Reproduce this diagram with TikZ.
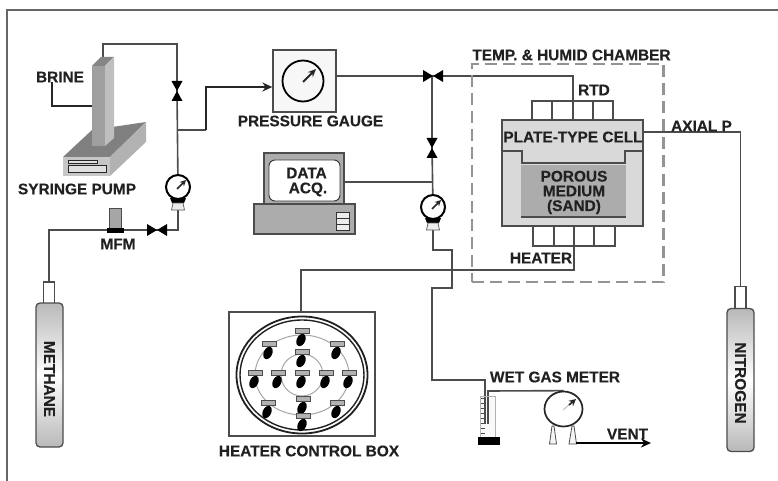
\documentclass[tikz,border=0pt]{standalone}
\usepackage{fontspec}
\setmainfont{Liberation Sans}[BoldFeatures={FakeBold=0.35}]
\usetikzlibrary{arrows.meta,shapes.geometric,calc}
\pgfdeclarelayer{bg}
\pgfsetlayers{bg,main}
\definecolor{pipe}{gray}{0.3}
\definecolor{ink}{gray}{0.13}
\tikzset{
 lab/.style={font=\fontsize{15.4}{16}\selectfont\bfseries,text=ink,inner sep=0pt,align=center},
 pipeline/.style={draw=pipe,line width=1.6pt,line join=miter},
 darkpipe/.style={draw=black!85,line width=1.7pt},
 arrowpipe/.style={darkpipe,-{Stealth[length=10pt,width=9pt]}},
 part/.style={draw=pipe,line width=1.3pt,inner sep=0pt},
 gaugedial/.style={circle,draw=black,fill=white,line width=2pt,minimum size=24pt,inner sep=0pt},
 needle/.style={draw=black!85,line width=1.6pt,-{Stealth[length=6pt,width=6pt]}},
 cylbody/.style={rotate=-90,draw=pipe,line width=1.3pt,rounded corners=4pt,minimum height=27pt,top color=gray!55,bottom color=gray!55,middle color=white,font=\fontsize{15.4}{16}\selectfont\bfseries,text=ink,inner sep=0pt},
 cylneck/.style={draw=pipe,line width=1.3pt,fill=white,minimum width=11pt,minimum height=22pt,inner sep=0pt},
 gridline/.style={draw=pipe,line width=1.5pt},
 tag/.style={draw=gray!60!black,fill=gray!60,line width=.6pt,minimum width=14pt,minimum height=5.5pt,inner sep=0pt},
 blob/.style={ellipse,fill=black,minimum width=8.5pt,minimum height=13pt,inner sep=0pt,rotate=-25},
 ring/.style={draw=gray!70,line width=1pt},
}
\newcommand{\valveH}[3]{%
 \coordinate (#1) at (#2,#3);
 \fill[black] (#2,#3) -- ++(-10,-6) -- ++(0,12) -- cycle;
 \fill[black] (#2,#3) -- ++(10,-6) -- ++(0,12) -- cycle;}
\newcommand{\valveV}[3]{%
 \coordinate (#1) at (#2,#3);
 \fill[black] (#2,#3) -- ++(-5.5,-10) -- ++(11,0) -- cycle;
 \fill[black] (#2,#3) -- ++(-5.5,10) -- ++(11,0) -- cycle;}
\newcommand{\gaugeat}[3]{%
 \node[gaugedial] (#1) at (#2,#3) {};
 \draw[needle] ($(#1)+(-1,2)$) -- ($(#1)+(8,-7)$);
 \fill[black] (#2-8,#3+11) -- (#2+8,#3+11) -- (#2+6,#3+16) -- (#2-6,#3+16) -- cycle;
 \node[coordinate] (#1foot) at (#2,#3+23) {};
 \filldraw[fill=gray!15,draw=gray!70!black,line width=.7pt] (#2-5,#3+16) -- (#2+5,#3+16) -- (#2+6.5,#3+23) -- (#2-6.5,#3+23) -- cycle;}
\newcommand{\heatertag}[3]{%
 \node[blob] at (#2-1,#3+9) {};
 \node[tag] (#1) at (#2,#3) {};}
\begin{document}
\begin{tikzpicture}[x=1pt,y=-1pt]
\useasboundingbox (0,0) rectangle (778,481);
% frame
\coordinate (frameTR) at (778,10);
\coordinate (frameTL) at (7,10);
\coordinate (frameBL) at (7,481);
\draw[gray!80!black,line width=2.6pt] (frameTR) -- (frameTL) -- (frameBL);

% syringe pump
\fill[gray] (63,157) -- (92,130) -- (146,122) -- (110,157) -- cycle;
\fill[gray!45] (63,157) rectangle (110,176);
\fill[gray!60] (110,157) -- (146,122) -- (146,142) -- (110,176) -- cycle;
\draw[gray!30!black,line width=.9pt,fill=gray!25] (68,160) rectangle (97,163);
\draw[gray!30!black,line width=.9pt,fill=gray!25] (68,165) rectangle (106,172);
\fill[gray!95] (92,66) -- (101,57) -- (114,57) -- (105,66) -- cycle;
\fill[gray!75] (92,66) rectangle (105,146);
\fill[gray!50] (105,66) -- (114,57) -- (114,138) -- (105,146) -- cycle;
\coordinate (pumpTop) at (103,63);
\coordinate (pumpSide) at (92,106);
\node[lab] (brine) at (60,77) {BRINE};
\coordinate (brineFoot) at (52,82);
\node[lab] (syringe) at (77,189) {SYRINGE PUMP};

% valves
\valveV{v1}{177}{91}
\valveH{v2}{157}{230}
\valveH{v3}{433}{76}
\valveV{v4}{432}{148}

% gauges
\gaugeat{g1}{178}{187}
\gaugeat{g2}{433}{207}

% MFM
\node[draw=gray!60!black,fill=gray!70,line width=.8pt,minimum width=12pt,minimum height=21pt,inner sep=0pt] (mfmtop) at (115,218.5) {};
\node[fill=black,minimum width=17pt,minimum height=5pt,inner sep=0pt] (mfm) at (115,230.5) {};
\node[lab] (mfml) at (118,244) {MFM};

% methane cylinder
\node[cylneck] (mneck) at (49,293) {};
\node[cylbody,minimum width=144pt] (methane) at (49.5,375) {\hspace*{8pt}METHANE};

% nitrogen cylinder
\node[cylneck] (nneck) at (740.5,297.5) {};
\node[cylbody,minimum width=143pt] (nitrogen) at (740.5,380) {\hspace*{6pt}NITROGEN};

% pressure gauge
\node[draw=pipe,fill=gray!6,line width=1.3pt,minimum width=63pt,minimum height=62pt,inner sep=0pt] (pg) at (304.5,81) {};
\node[circle,draw=black,line width=1.8pt,minimum size=41pt,inner sep=0pt] (pgd) at (303,81) {};
\draw[needle,line width=1.8pt,-{Stealth[length=8pt,width=7pt]}] (303,82) -- (316,69);
\node[lab] (pgl) at (310.5,121) {PRESSURE GAUGE};

% data acquisition
\node[part,fill=gray!65,minimum width=80pt,minimum height=51pt] (mon) at (304,178.5) {};
\node[draw=gray!40!black,line width=.9pt,fill=white,rounded corners=6pt,minimum width=71pt,minimum height=41pt,inner sep=0pt] (acq) at (304.5,180.5) {};
\node[lab] (acql) at (306.5,182) {DATA\\[-1pt]\hspace*{3pt}ACQ.};
\node[part,fill=gray!65,minimum width=101pt,minimum height=30pt] (base) at (304.5,219) {};
\foreach \yy in {215.5,221.5,227.5}
  \node[draw=gray!40!black,line width=.7pt,fill=gray!15,minimum width=13pt,minimum height=6pt,inner sep=0pt] at (342.5,\yy) {};

% chamber
\node[draw=gray!85,line width=2.2pt,dash pattern=on 12pt off 6pt,minimum width=191.5pt,minimum height=218pt,inner sep=0pt] (chamber) at (567.75,173) {};
\node[lab] (chl) at (571.5,55) {TEMP. \& HUMID CHAMBER};
\node[lab] (rtd) at (594,90) {RTD};

% cell
\node[part,fill=gray!30,minimum width=141pt,minimum height=106pt] (cell) at (572.5,173) {};
\fill[gray!65] (521,165) rectangle (626,217);
\draw[gridline] (521,217) -- (626,217);
\draw[gridline] (502,151) -- (522,151) -- (522,163) -- (625,163) -- (625,151) -- (643,151);
\node[lab] (celll) at (573,137) {PLATE-TYPE CELL};
\node[lab,font=\fontsize{15.4}{14.7}\selectfont\bfseries] (sand) at (574,192.5) {POROUS\\MEDIUM\\(SAND)};
\draw[gridline] (532,120) |- (613,101) -- (613,120);
\foreach \xx in {552,593} \draw[gridline] (\xx,101) -- (\xx,120);
\coordinate (rtdTop) at (573,101);
\coordinate (cellTopMid) at (573,120);
\draw[gridline] (533,226) |- (615,246) -- (615,226);
\foreach \xx in {554,594} \draw[gridline] (\xx,226) -- (\xx,246);
\coordinate (heatTop) at (574,226);
\node[lab] (heaterl) at (541,258) {HEATER};
\node[lab] (axial) at (701.5,126) {AXIAL P};

% heater control box
\node[part,minimum width=146pt,minimum height=124pt,fill=white] (box) at (302,374) {};
\draw[gray!25!black,line width=1.8pt] (302,375) ellipse [x radius=65.5,y radius=58.5];
\draw[gray!25!black,line width=1.4pt] (302,375) ellipse [x radius=62,y radius=55];
\draw[ring] (302,375) ellipse [x radius=47,y radius=40];
\draw[ring] (302,375) circle [radius=21];
\heatertag{h1}{302}{331}
\heatertag{h2}{269}{344}
\heatertag{h3}{337}{344}
\heatertag{h4}{302}{352}
\heatertag{h5}{255}{373}
\heatertag{h6}{278}{373}
\heatertag{h7}{302}{373}
\heatertag{h8}{326}{373}
\heatertag{h9}{349}{373}
\heatertag{h10}{268}{403}
\heatertag{h11}{303}{399}
\heatertag{h12}{337}{403}
\heatertag{h13}{303}{416}
\node[lab] (boxl) at (309,451) {HEATER CONTROL BOX};

% wet gas meter
\node[lab] (wgl) at (555,377) {WET GAS METER};
\node[draw=gray!60,line width=.9pt,fill=gray!5,minimum width=15pt,minimum height=41pt,inner sep=0pt] (tube) at (488,417) {};
\foreach \yy in {398,403,...,433} \draw[gray!60!black,line width=.6pt] (481,\yy) -- (485,\yy);
\node[fill=black,minimum width=22pt,minimum height=8pt,inner sep=0pt] (tubebase) at (489,441) {};
\node[ellipse,draw=black!85,fill=white,line width=1.7pt,minimum width=38pt,minimum height=35pt,inner sep=0pt] (wg) at (563.5,409) {};
\draw[gray!50,line width=1pt] (563,410) -- (570,404);
\draw[needle,-{Stealth[length=7pt,width=7pt]}] (569,405) -- (576,399);
\filldraw[fill=gray!8,draw=gray!60!black,line width=.8pt] (549.5,444) -- (552,426) -- (554,426) -- (556.5,444) -- cycle;
\filldraw[fill=gray!8,draw=gray!60!black,line width=.8pt] (569,444) -- (572,426) -- (574,426) -- (576.5,444) -- cycle;
\coordinate (wgleg) at (576,443);
\coordinate (vent) at (651,443);
\node[lab] (ventl) at (627.5,434) {VENT};

% connectors on the layer below
\begin{pgfonlayer}{bg}
\draw[pipeline] (pumpTop) -- (103,44) -- (177,44) -- (v1);
\draw[pipeline] (v1) -- (g1);
\draw[pipeline] (177,130) -- (206,130);
\draw[arrowpipe] (206,130) -- (206,87) -- (pg.west |- 0,87);
\draw[darkpipe] (brineFoot) -- (52,106) -- (pumpSide);
\draw[pipeline] (g1foot) -- (178,230) -- (v2);
\draw[pipeline] (v2) -- (49,230) -- (mneck.north);
\draw[pipeline] (pg.east |- 0,76) -- (v3);
\draw[pipeline] (v3) -- (573,76) -- (rtdTop) -- (cellTopMid);
\draw[pipeline] (432,76) -- (v4);
\draw[pipeline] (v4) -- (g2);
\draw[pipeline] (mon.east |- 0,182) -- (432,182);
\draw[pipeline] (heatTop) -- (574,270) -- (301,270) -- (box.north -| 301,0);
\draw[pipeline] (g2foot) -- (433,250) -- (452,250) -- (452,288) -- (432,288) -- (432,380) -- (485,380) -- (485,424);
\draw[pipeline] (488,424) -- (488,391) -- (wg.north);
\draw[pipeline] (cell.east |- 0,132) -- (740.5,132) -- (nneck.north);
\end{pgfonlayer}
\draw[pipeline] (485,397) -- (485,424);
\draw[pipeline] (488,397) -- (488,424);
\draw[arrowpipe,draw=black] (wgleg) -- (vent);
\end{tikzpicture}
\end{document}
